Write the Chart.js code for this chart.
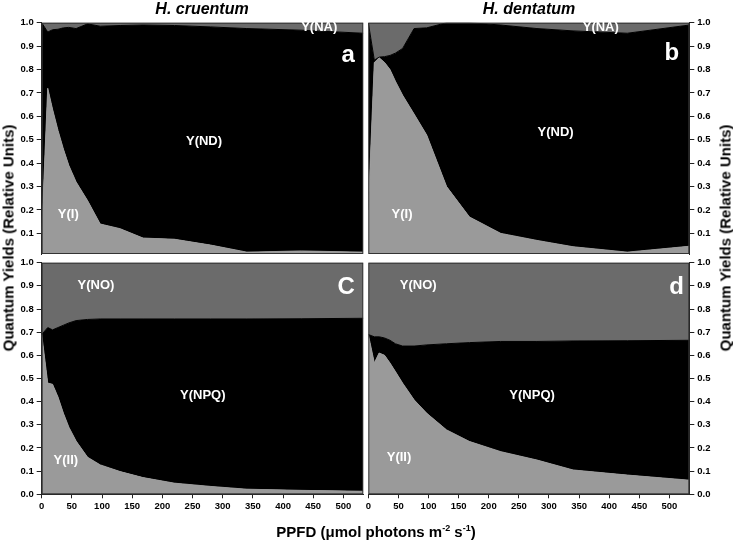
<!DOCTYPE html>
<html>
<head>
<meta charset="utf-8">
<script src="https://cdn.jsdelivr.net/npm/chart.js@4.4.1/dist/chart.umd.min.js"></script>
<style>
  html, body { margin: 0; padding: 0; background: #fff; }
  #wrap { position: relative; width: 733px; height: 540px; overflow: hidden; font-family: "Liberation Sans", Arial, sans-serif; }
  canvas { position: absolute; left: 0; top: 0; }
  .t { position: absolute; transform: translate(-50%, -50%); white-space: nowrap; font-weight: bold; color: #000; }
  .ptitle { font-size: 16px; font-style: italic; }
  .ytitle { font-size: 15px; transform: translate(-50%, -50%) rotate(-90deg); }
  .xtitle { font-size: 15px; }
  .xtitle sup { font-size: 9px; vertical-align: 6px; line-height: 0; }
</style>
</head>
<body>
<div id="wrap">
  <canvas id="ca" width="733" height="540"></canvas>
  <canvas id="cb" width="733" height="540"></canvas>
  <canvas id="cc" width="733" height="540"></canvas>
  <canvas id="cd" width="733" height="540"></canvas>
  <div class="t ptitle" style="left:202px; top:9px;">H. cruentum</div>
  <div class="t ptitle" style="left:529px; top:9px;">H. dentatum</div>
  <div class="t ytitle" style="left:8px; top:238px;">Quantum Yields (Relative Units)</div>
  <div class="t ytitle" style="left:725px; top:238px;">Quantum Yields (Relative Units)</div>
  <div class="t xtitle" style="left:376px; top:531px;">PPFD (μmol photons m<sup>-2</sup> s<sup>-1</sup>)</div>
</div>
<script>
// ---------------- DATA ----------------
const ppfd = [0, 10, 18, 27, 36, 45, 57, 76, 97, 130, 168, 220, 280, 340, 430, 533];

// Panel a: H. cruentum, PSI
const cruentumYI  = [0.10, 0.72, 0.63, 0.54, 0.46, 0.39, 0.32, 0.24, 0.14, 0.12, 0.08, 0.075, 0.05, 0.02, 0.025, 0.02];
const cruentumYND = [0.90, 0.24, 0.34, 0.432, 0.518, 0.59, 0.655, 0.755, 0.845, 0.868, 0.91, 0.913, 0.932, 0.955, 0.943, 0.935];
const cruentumYNA = [0.00, 0.04, 0.03, 0.028, 0.022, 0.02, 0.025, 0.005, 0.015, 0.012, 0.01, 0.012, 0.018, 0.025, 0.032, 0.045];

// Panel b: H. dentatum, PSI
const dentatumYI  = [0.20, 0.83, 0.85, 0.83, 0.80, 0.75, 0.69, 0.61, 0.52, 0.30, 0.17, 0.10, 0.07, 0.043, 0.02, 0.045];
const dentatumYND = [0.80, 0.01, 0.003, 0.025, 0.06, 0.12, 0.20, 0.365, 0.458, 0.70, 0.83, 0.89, 0.905, 0.922, 0.935, 0.945];
const dentatumYNA = [0.00, 0.16, 0.147, 0.145, 0.14, 0.13, 0.11, 0.025, 0.022, 0.00, 0.00, 0.01, 0.025, 0.035, 0.045, 0.01];

// Panel c: H. cruentum, PSII
const cruentumYII  = [0.69, 0.48, 0.475, 0.42, 0.35, 0.29, 0.23, 0.16, 0.127, 0.098, 0.072, 0.048, 0.034, 0.022, 0.017, 0.013];
const cruentumYNPQ = [0.00, 0.24, 0.235, 0.30, 0.38, 0.45, 0.52, 0.595, 0.63, 0.659, 0.685, 0.709, 0.723, 0.735, 0.741, 0.747];
const cruentumYNO  = [0.31, 0.28, 0.29, 0.28, 0.27, 0.26, 0.25, 0.245, 0.243, 0.243, 0.243, 0.243, 0.243, 0.243, 0.242, 0.24];

// Panel d: H. dentatum, PSII
const dentatumYII  = [0.69, 0.567, 0.61, 0.60, 0.567, 0.53, 0.48, 0.408, 0.35, 0.278, 0.228, 0.184, 0.148, 0.105, 0.083, 0.061];
const dentatumYNPQ = [0.00, 0.113, 0.07, 0.075, 0.098, 0.12, 0.16, 0.232, 0.295, 0.372, 0.427, 0.476, 0.512, 0.557, 0.58, 0.604];
const dentatumYNO  = [0.31, 0.32, 0.32, 0.325, 0.335, 0.35, 0.36, 0.36, 0.355, 0.35, 0.345, 0.34, 0.34, 0.338, 0.337, 0.335];

const xTicks = [0, 50, 100, 150, 200, 250, 300, 350, 400, 450, 500];
const yTicksTop = [0.1, 0.2, 0.3, 0.4, 0.5, 0.6, 0.7, 0.8, 0.9, 1.0];
const yTicksBottom = [0.0, 0.1, 0.2, 0.3, 0.4, 0.5, 0.6, 0.7, 0.8, 0.9, 1.0];

// in-plot labels: [text, ppfd, yield]
const labelsA = [["Y(NA)", 460, 0.98], ["Y(ND)", 269, 0.494], ["Y(I)", 44, 0.18]];
const labelsB = [["Y(NA)", 386, 0.98], ["Y(ND)", 311, 0.53], ["Y(I)", 56, 0.18]];
const labelsC = [["Y(NO)", 90, 0.90], ["Y(NPQ)", 267, 0.425], ["Y(II)", 40, 0.148]];
const labelsD = [["Y(NO)", 83, 0.90], ["Y(NPQ)", 272, 0.425], ["Y(II)", 51, 0.16]];
const panelLetters = { a: ["a", 519, 0.832], b: ["b", 516, 0.84], c: ["C", 519, 0.863], d: ["d", 524, 0.863] };

// ---------------- STYLE ----------------
const LIGHT = "#9a9a9a", BLACK = "#000000", DARK = "#6b6b6b";
const FONT = "'Liberation Sans', Arial, sans-serif";
const W = 733, H = 540;
const AX_LEFT = 41.7, AX_RIGHT = 363.3, BX_LEFT = 368.3, BX_RIGHT = 689.3;
const TOP_T = 22.7, TOP_B = 254, BOT_T = 262.7, BOT_B = 494.3;
const XAXIS_H = 20;

function pts(arr) { return ppfd.map((x, i) => ({ x: x, y: arr[i] })); }

function ds(arr, color, fill) {
  return { data: pts(arr), backgroundColor: color, borderColor: color, borderWidth: 1,
           fill: fill, pointRadius: 0, tension: 0 };
}

const textPlugin = {
  id: 'texts',
  afterDatasetsDraw(chart) {
    const o = chart.options.plugins.texts;
    const ctx = chart.ctx, xs = chart.scales.x, ys = chart.scales.y;
    ctx.save();
    const a = chart.chartArea;
    ctx.strokeStyle = "#333"; ctx.lineWidth = 1;
    ctx.strokeRect(a.left + 0.5, a.top + 0.5, a.right - a.left - 1, a.bottom - a.top - 1);
    ctx.fillStyle = "#fff";
    ctx.font = "bold 13px " + FONT;
    ctx.textAlign = "center"; ctx.textBaseline = "middle";
    o.labels.forEach(l => ctx.fillText(l[0], xs.getPixelForValue(l[1]), ys.getPixelForValue(l[2])));
    ctx.font = "bold 24px " + FONT;
    ctx.textAlign = "right"; ctx.textBaseline = "alphabetic";
    ctx.fillText(o.letter[0], xs.getPixelForValue(o.letter[1]), ys.getPixelForValue(o.letter[2]));
    ctx.restore();
  }
};

function makeChart(id, series, colors, opt) {
  const datasets = series.map((s, i) => ds(s, colors[i], i === 0 ? 'origin' : '-1'));
  const tickFont = { family: FONT, size: 9.5, weight: 'bold' };
  const left = opt.side === 'left';
  const plotL = left ? AX_LEFT : BX_LEFT, plotR = left ? AX_RIGHT : BX_RIGHT;
  const top = opt.top ? TOP_T : BOT_T, bot = opt.top ? TOP_B : BOT_B;
  return new Chart(document.getElementById(id), {
    type: 'line',
    data: { datasets: datasets },
    plugins: [textPlugin],
    options: {
      responsive: false, animation: false,
      layout: { padding: {
        left: left ? 0 : plotL,
        right: left ? W - plotR : 0,
        top: top,
        bottom: opt.top ? H - bot : H - bot - XAXIS_H } },
      plugins: { legend: { display: false }, tooltip: { enabled: false },
                 texts: { labels: opt.labels, letter: opt.letter } },
      scales: {
        x: {
          type: 'linear', min: 0, max: 533, display: !opt.top,
          afterFit: s => { s.height = opt.top ? 0 : XAXIS_H; },
          afterBuildTicks: s => { s.ticks = xTicks.map(v => ({ value: v })); },
          grid: { drawOnChartArea: false, drawTicks: true, tickLength: 4, color: '#222', tickWidth: 1 },
          border: { display: true, color: '#222', width: 1 },
          ticks: { font: tickFont, color: '#000', padding: 2, maxRotation: 0, autoSkip: false,
                   callback: v => String(v) }
        },
        y: {
          type: 'linear', stacked: true, position: opt.side,
          min: opt.top ? 0.012 : 0, max: 1.0,
          afterFit: s => { s.width = left ? AX_LEFT : W - BX_RIGHT; },
          afterBuildTicks: s => { s.ticks = (opt.top ? yTicksTop : yTicksBottom).map(v => ({ value: v })); },
          grid: { drawOnChartArea: false, drawTicks: true, tickLength: 5, color: '#222', tickWidth: 1 },
          border: { display: true, color: '#222', width: 1 },
          ticks: { font: tickFont, color: '#000', padding: 3, autoSkip: false,
                   callback: v => Number(v).toFixed(1) }
        }
      }
    }
  });
}

makeChart('ca', [cruentumYI, cruentumYND, cruentumYNA], [LIGHT, BLACK, DARK],
          { side: 'left', top: true, labels: labelsA, letter: panelLetters.a });
makeChart('cb', [dentatumYI, dentatumYND, dentatumYNA], [LIGHT, BLACK, DARK],
          { side: 'right', top: true, labels: labelsB, letter: panelLetters.b });
makeChart('cc', [cruentumYII, cruentumYNPQ, cruentumYNO], [LIGHT, BLACK, DARK],
          { side: 'left', top: false, labels: labelsC, letter: panelLetters.c });
makeChart('cd', [dentatumYII, dentatumYNPQ, dentatumYNO], [LIGHT, BLACK, DARK],
          { side: 'right', top: false, labels: labelsD, letter: panelLetters.d });
</script>
</body>
</html>
